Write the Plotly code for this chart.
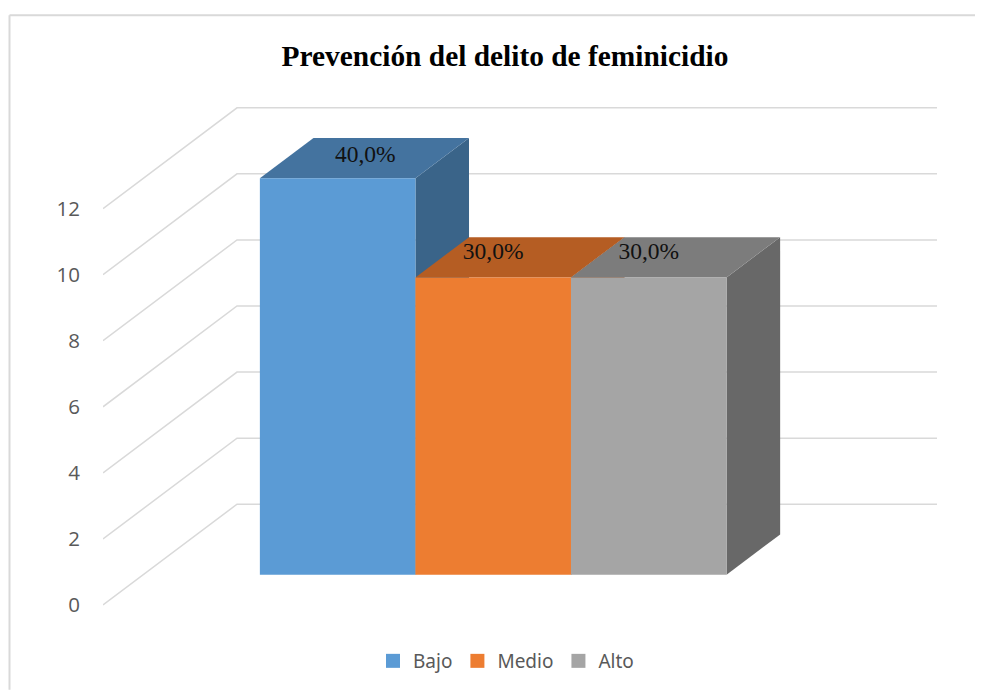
# plot.py
import plotly.graph_objects as go

# Datos
CATEGORIES = ['Bajo', 'Medio', 'Alto']
VALUES = [12, 9, 9]
LABELS = ['40,0%', '30,0%', '30,0%']
Y_TICKS = [0, 2, 4, 6, 8, 10, 12]

# Colores y estilos
FRONT = ['#5B9BD5', '#ED7D31', '#A5A5A5']
TOP = ['#44739F', '#B55D23', '#7C7C7C']
SIDE = ['#3A6489', '#9A4F1E', '#686868']
GRID = '#D9D9D9'
TEXT = '#595959'

# La pagina deja 8 px de margen en el body, asi que todo se mide desde ahi
PAGE = 8
W, H = 983, 691 - PAGE
LEFT, RIGHT, TOP_PX, BOTTOM = 103 - PAGE, 937 - PAGE, 100 - PAGE, 615 - PAGE
ZERO_PX = 606 - PAGE

# Proyeccion oblicua: 1 unidad x = ancho de barra, depth va de 0 (frente) a 1 (fondo)
UNIT_X = 155.56
UNIT_Y = 33.1
DEPTH_X = 134 / UNIT_X
DEPTH_Y = 101 / UNIT_Y
FLOOR_W = 4.5
BAR_START = 0.75
BAR_DEPTH = (0.3, 0.7)
LABEL_SHIFT = [-0.012, -0.207, -0.207]
LABEL_DEPTH = [0.52, 0.54, 0.54]


def project(x, v, d):
    return x + d * DEPTH_X, v + d * DEPTH_Y


def poly(points, color):
    xy = [project(*p) for p in points + points[:1]]
    return go.Scatter(
        x=[p[0] for p in xy], y=[p[1] for p in xy], mode='lines', fill='toself',
        fillcolor=color, line=dict(width=0), showlegend=False, hoverinfo='skip'
    )


fig = go.Figure()

# Rejilla
for t in Y_TICKS:
    xy = [project(0, t, 0), project(0, t, 1), project(FLOOR_W, t, 1)]
    fig.add_trace(go.Scatter(
        x=[p[0] for p in xy], y=[p[1] for p in xy], mode='lines',
        line=dict(color=GRID, width=1.5), showlegend=False, hoverinfo='skip'
    ))

# Barras
d0, d1 = BAR_DEPTH
for i, v in enumerate(VALUES):
    x0 = BAR_START + i
    x1 = x0 + 1
    fig.add_trace(poly([(x1, 0, d0), (x1, 0, d1), (x1, v, d1), (x1, v, d0)], SIDE[i]))
    fig.add_trace(poly([(x0, v, d0), (x1, v, d0), (x1, v, d1), (x0, v, d1)], TOP[i]))
    fig.add_trace(poly([(x0, 0, d0), (x1, 0, d0), (x1, v, d0), (x0, v, d0)], FRONT[i]))

# Etiquetas de datos
for i, v in enumerate(VALUES):
    lx, ly = project(BAR_START + i + 0.5 + LABEL_SHIFT[i], v, LABEL_DEPTH[i])
    fig.add_trace(go.Scatter(
        x=[lx], y=[ly], mode='text', text=[LABELS[i]], textposition='middle center',
        textfont=dict(family='Liberation Serif', size=23.5, color='#111111'),
        showlegend=False, hoverinfo='skip'
    ))

# Leyenda
for i, name in enumerate(CATEGORIES):
    fig.add_trace(go.Scatter(
        x=[None], y=[None], mode='markers', name=name,
        marker=dict(symbol='square', size=14, color=FRONT[i])
    ))

plot_w = RIGHT - LEFT
plot_h = BOTTOM - TOP_PX
frame_x = (9.5 - PAGE - LEFT) / plot_w
frame_y = (BOTTOM - (15 - PAGE)) / plot_h

fig.update_layout(
    width=W, height=H, autosize=False,
    margin=dict(l=LEFT, r=W - RIGHT, t=TOP_PX, b=H - BOTTOM),
    plot_bgcolor='white', paper_bgcolor='white',
    font=dict(family='Noto Sans', color=TEXT),
    title=dict(
        text='<b>Prevención del delito de feminicidio</b>',
        font=dict(family='Liberation Serif', size=29.4, color='black'),
        x=(505 - PAGE) / W, xanchor='center', y=1 - (56 - PAGE) / H, yanchor='middle'
    ),
    xaxis=dict(
        range=[0, plot_w / UNIT_X], showgrid=False, zeroline=False,
        showticklabels=False, showline=False, fixedrange=True
    ),
    yaxis=dict(
        range=[(ZERO_PX - BOTTOM) / UNIT_Y, (ZERO_PX - TOP_PX) / UNIT_Y],
        tickvals=Y_TICKS, showgrid=False, zeroline=False, showline=False,
        ticks='', ticklabelstandoff=22, tickfont=dict(family='Open Sans', size=20.5, color=TEXT),
        fixedrange=True
    ),
    legend=dict(
        orientation='h', x=(506 - PAGE - LEFT) / plot_w, xanchor='center',
        y=-(661 - PAGE - BOTTOM) / plot_h, yanchor='middle',
        font=dict(family='Noto Sans', size=19, color=TEXT), itemwidth=30
    ),
    shapes=[
        dict(type='line', xref='paper', yref='paper', x0=frame_x, x1=(W - LEFT) / plot_w,
             y0=frame_y, y1=frame_y, line=dict(color=GRID, width=2)),
        dict(type='line', xref='paper', yref='paper', x0=frame_x, x1=frame_x,
             y0=(BOTTOM - H) / plot_h, y1=frame_y, line=dict(color=GRID, width=2)),
    ],
)

fig.write_html("out.html")
